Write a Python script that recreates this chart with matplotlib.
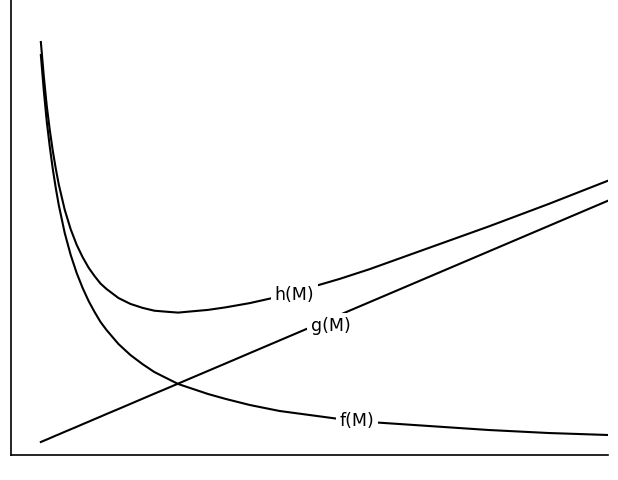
import matplotlib
matplotlib.use('Agg')
from matplotlib import pyplot as plt

# values (vertical units = pixels above the bottom axis)
M = [0.5, 0.55, 0.6, 0.65, 0.7, 0.75, 0.8, 0.9, 1.0, 1.1, 1.2, 1.3, 1.4, 1.5,
     1.6, 1.8, 2.0, 2.2, 2.4, 2.6, 2.8, 3.0, 3.3, 3.6, 4.0, 4.5, 5.0, 5.5,
     6.0, 7.0, 8.0, 9.0, 10.0]
f_vals = [400, 364, 333, 308, 286, 267, 250, 222, 200, 182, 167, 154, 143, 133,
          125, 111, 100, 91, 83, 77, 71, 67, 61, 56, 50, 44, 40, 36,
          33, 29, 25, 22, 20]
g_vals = [13.0, 14.3, 15.5, 16.8, 18.1, 19.4, 20.6, 23.2, 25.7, 28.2, 30.8,
          33.3, 35.9, 38.4, 41.0, 46.0, 51.1, 56.2, 61.3, 66.3, 71.4, 76.5,
          84.1, 91.7, 101.9, 114.6, 127.3, 140.0, 152.7, 178.1, 203.5, 228.9,
          254.3]
h_vals = [413.0, 378.3, 348.5, 324.8, 304.1, 286.4, 270.6, 245.2, 225.7, 210.2,
          197.8, 187.3, 178.9, 171.4, 166.0, 157.0, 151.1, 147.2, 144.3, 143.3,
          142.4, 143.5, 145.1, 147.7, 151.9, 158.6, 167.3, 176.0, 185.7, 207.1,
          228.5, 250.9, 274.3]

labels = ['f(M)', 'g(M)', 'h(M)']
label_pos = [(5.8, 35), (5.35, 130), (4.75, 161)]

fig = plt.figure(figsize=(6.18, 4.81), dpi=100)
ax = fig.add_axes([11/618, 25/481, 597/618, 456/481])

for vals, name, (lx, ly) in zip([f_vals, g_vals, h_vals], labels, label_pos):
    ax.plot(M, vals, color='black', lw=1.5)
    ax.text(lx, ly, name, fontsize=12.5, ha='center', va='center',
            bbox=dict(facecolor='white', edgecolor='none', pad=2.5))

ax.set_xlim(0, 10)
ax.set_ylim(0, 456)
ax.spines['top'].set_visible(False)
ax.spines['right'].set_visible(False)
ax.spines['left'].set_linewidth(1.2)
ax.spines['bottom'].set_linewidth(1.2)
ax.set_xticks([])
ax.set_yticks([])

fig.savefig('out.png', dpi=100)
